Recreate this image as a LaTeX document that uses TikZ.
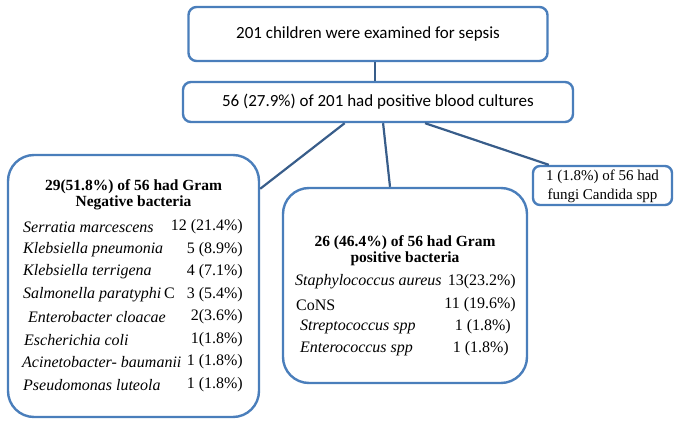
\documentclass[tikz,border=0pt]{standalone}
\usepackage{fontspec}
\setmainfont{Liberation Serif}
\newfontfamily\calfont{Carlito}
\usetikzlibrary{calc}
\definecolor{boxblue}{HTML}{4A7EBB}
\definecolor{lineblue}{HTML}{385D8A}
\tikzset{
  box/.style={draw=boxblue, line width=2.4pt, fill=white, inner sep=0pt},
  conn/.style={draw=lineblue, line width=2.2pt},
  sanstxt/.style={font=\calfont\fontsize{17}{20}\selectfont},
  seriftxt/.style={font=\fontsize{16}{18}\selectfont, inner sep=0pt},
  spname/.style={seriftxt, anchor=west, font=\fontsize{16}{18}\selectfont\itshape},
  valtxt/.style={seriftxt, anchor=east},
  ttltxt/.style={font=\fontsize{15.5}{16}\selectfont\bfseries, align=center, inner sep=0pt}
}
\begin{document}
\begin{tikzpicture}[x=1pt,y=-1pt]
\useasboundingbox (0,0) rectangle (681,431);
% boxes
\node[box, rounded corners=8pt, minimum width=359pt, minimum height=54pt] (top) at (368,34) {};
\node[box, rounded corners=8pt, minimum width=390pt, minimum height=40pt] (b2) at (378,102) {};
\node[box, rounded corners=26pt, minimum width=251pt, minimum height=262pt] (lb) at (133.5,286) {};
\node[box, rounded corners=26pt, minimum width=244pt, minimum height=195pt] (mb) at (405,285.5) {};
\node[box, rounded corners=7pt, minimum width=139pt, minimum height=39pt] (rb) at (602.5,185.5) {};
% connectors
\draw[conn] ([xshift=7pt]top.south) -- ([xshift=-3pt]b2.north);
\draw[conn] ($(b2.south west)!0.415!(b2.south east)$) -- ([yshift=-35pt]lb.north east);
\draw[conn] ($(b2.south west)!0.513!(b2.south east)$) -- ([xshift=-15pt]mb.north);
\draw[conn] ($(b2.south west)!0.62!(b2.south east)$) -- ([xshift=17pt]rb.north west);
% texts
\node[sanstxt] (t1) at (368,34) {201 children were examined for sepsis};
\node[sanstxt] (t2) at (378,102) {56 (27.9\%) of 201 had positive blood cultures};
\node[font=\fontsize{15}{19}\selectfont, align=center, inner sep=0pt] (t3) at (602.5,186) {1 (1.8\%) of 56 had\\fungi Candida spp};
% left box
\node[ttltxt] (lt) at (133.5,195) {29(51.8\%) of 56 had Gram\\Negative bacteria};
\node[spname] (n1) at (23,227) {Serratia marcescens};
\node[valtxt] (v1) at (243,227) {12 (21.4\%)};
\node[spname] (n2) at (23,250) {Klebsiella pneumonia};
\node[valtxt] (v2) at (243,250) {5 (8.9\%)};
\node[spname] (n3) at (23,272) {Klebsiella terrigena};
\node[valtxt] (v3) at (243,272) {4 (7.1\%)};
\node[spname] (n4) at (23,295) {Salmonella paratyphi\,\upshape C};
\node[valtxt] (v4) at (243,295) {3 (5.4\%)};
\node[spname] (n5) at (28,317) {Enterobacter cloacae};
\node[valtxt] (v5) at (243,317) {2(3.6\%)};
\node[spname] (n6) at (24,340) {Escherichia coli};
\node[valtxt] (v6) at (243,340) {1(1.8\%)};
\node[spname] (n7) at (22,362) {Acinetobacter- baumanii};
\node[valtxt] (v7) at (243,362) {1 (1.8\%)};
\node[spname] (n8) at (23,385) {Pseudomonas luteola};
\node[valtxt] (v8) at (243,385) {1 (1.8\%)};
% middle box
\node[ttltxt] (mt) at (405,251) {26 (46.4\%) of 56 had Gram\\positive bacteria};
\node[spname] (m1) at (295,282) {Staphylococcus aureus};
\node[valtxt] (w1) at (516,282) {13(23.2\%)};
\node[seriftxt, anchor=west] (m2) at (296,305) {CoNS};
\node[valtxt] (w2) at (516,305) {11 (19.6\%)};
\node[spname] (m3) at (300,327) {Streptococcus spp};
\node[valtxt] (w3) at (511,327) {1 (1.8\%)};
\node[spname] (m4) at (300,349) {Enterococcus spp};
\node[valtxt] (w4) at (509,349) {1 (1.8\%)};
\end{tikzpicture}
\end{document}
